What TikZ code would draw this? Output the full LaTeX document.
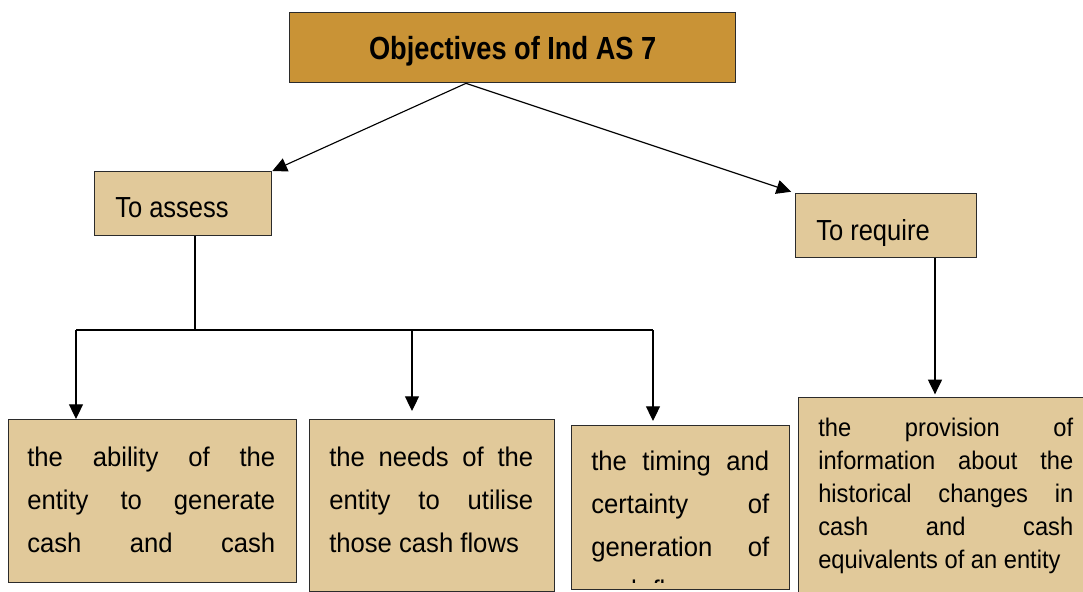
\documentclass[tikz,border=0pt]{standalone}
\usepackage{fontspec}
\setmainfont{Liberation Sans}
\newfontfamily\bodyf{Liberation Sans}[FakeStretch=0.95]
\newfontfamily\sidef{Liberation Sans}[FakeStretch=0.93]
\newfontfamily\titlef{Liberation Sans}[FakeStretch=0.85]
\newfontfamily\labf{Liberation Sans}[FakeStretch=0.88]
\usetikzlibrary{arrows.meta,calc}
\definecolor{gold}{HTML}{C99336}
\definecolor{sand}{HTML}{E1C99A}
\definecolor{edgec}{HTML}{2B2B2B}
\newcommand\justline[1]{\makebox[\linewidth][s]{#1}}
\begin{document}
\begin{tikzpicture}[x=0.75pt,y=-0.75pt,
  box/.style={draw=edgec,line width=1pt,fill=sand,anchor=north west,inner sep=0pt},
  tbox/.style={box,fill=gold},
  txt/.style={anchor=base west,inner sep=0pt,text=black},
  link/.style={line width=0.85pt,black},
  arr/.style={link,-{Triangle[length=11pt,width=10.5pt]}}]
\useasboundingbox (0,0) rectangle (1083,592);
\clip (0,0) rectangle (1083,592);
\fill[white] (0,0) rectangle (1083,592);

% boxes
\node[tbox,minimum width=334.5pt,minimum height=52.5pt,text height=17.2pt,text depth=0pt,
  font=\titlef\bfseries\fontsize{24pt}{28pt}\selectfont] (title) at (289,12) {Objectives of Ind AS 7};
\node[box,minimum width=132.75pt,minimum height=48pt] (assess) at (94,171) {};
\node[txt,font=\labf\fontsize{21.75pt}{25pt}\selectfont] (assesst) at (115,218) {To assess};
\node[box,minimum width=135.75pt,minimum height=48pt] (require) at (795,193) {};
\node[txt,font=\labf\fontsize{21.75pt}{25pt}\selectfont] (requiret) at (816,240) {To require};

\node[box,minimum width=216pt,minimum height=122.25pt] (b1) at (8,419) {};
\node[box,minimum width=183.75pt,minimum height=129pt] (b2) at (309,419) {};
\node[box,minimum width=163.5pt,minimum height=123pt] (b3) at (571,425) {};
\node[box,minimum width=217.5pt,minimum height=150pt] (b4) at (798,397) {};

\node[txt] (t1) at (27,466) {\parbox[t]{186pt}{\bodyf\fontsize{20.25pt}{32.25pt}\selectfont
  \justline{the ability of the}\\ \justline{entity to generate}\\ \justline{cash and cash}}};
\node[txt] (t2) at (329,466) {\parbox[t]{153pt}{\bodyf\fontsize{20.25pt}{32.25pt}\selectfont
  \justline{the needs of the}\\ \justline{entity to utilise}\\ those cash flows}};
\begin{scope}
\clip (571,425) rectangle (789,582);
\node[txt] (t3) at (591,470) {\parbox[t]{133.5pt}{\bodyf\fontsize{20.25pt}{32.25pt}\selectfont
  \justline{the timing and}\\ \justline{certainty of}\\ \justline{generation of}\\ cash flows}};
\end{scope}
\node[txt] (t4) at (818,436) {\parbox[t]{191.25pt}{\sidef\fontsize{19.1pt}{24.75pt}\selectfont
  \justline{the provision of}\\ \justline{information about the}\\ \justline{historical changes in}\\
  \justline{cash and cash}\\ equivalents of an entity}};

% connectors
\coordinate (split) at ([xshift=132.75pt]title.south west);
\draw[arr] (split) -- (assess.north east);
\draw[arr,shorten >=3pt] (split) -- (require.north west);

\coordinate (fork) at ([xshift=75.75pt]assess.south west);
\coordinate (jc) at (195,330);
\coordinate (jl) at (76,330);
\coordinate (jm) at (412,330);
\coordinate (jr) at (653,330);
\draw[link] (fork) -- (jc);
\draw[link] (jl) -- (jr);
\draw[arr] (jl) -- (jl |- b1.north);
\draw[arr,shorten >=6pt] (jm) -- (jm |- b2.north);
\draw[arr,shorten >=3pt] (jr) -- (jr |- b3.north);

\coordinate (rq) at ([xshift=105pt]require.south west);
\draw[arr,shorten >=2pt] (rq) -- (rq |- b4.north);
\end{tikzpicture}
\end{document}
